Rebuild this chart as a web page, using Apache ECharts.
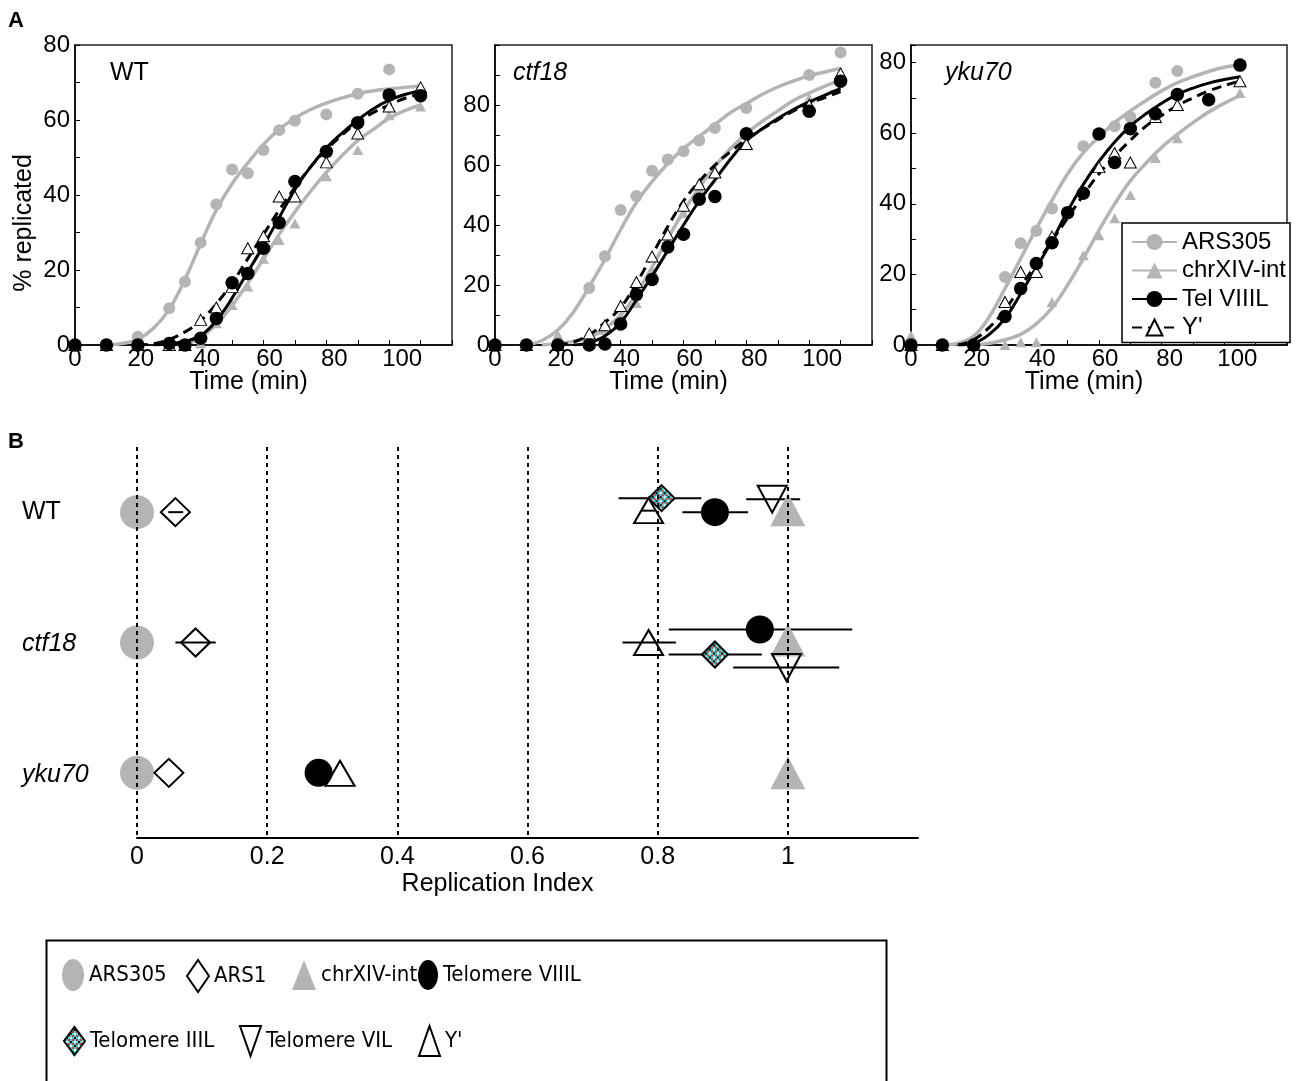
<!DOCTYPE html>
<html><head><meta charset="utf-8">
<script src="https://cdn.jsdelivr.net/npm/echarts@6/dist/echarts.min.js"></script>
<style>html,body{margin:0;padding:0;background:#fff}#c{width:1303px;height:1081px}</style>
</head><body><div id="c"></div>
<script>
// ---------- Panel A data ----------
const tWT = [0,10,20,30,35,40,45,50,55,60,65,70,80,90,100,110];
const wtARS305   = [0,0,2.2,9.8,16.9,27.3,37.5,46.8,45.8,52,57.3,59.8,61.5,67,73.5,67];
const wtChrXIV   = [0,0,0,0,0,0.4,5.8,10.7,15.6,23,28,32.4,45,52,61.3,63.6];
const wtTelVIIIL = [0,0,0,0.4,0,1.8,7.1,16.6,19.1,25.8,32.6,43.6,51.6,59.3,66.7,66.5];
const wtY        = [0,0,0,0,0,6.7,10,15.5,25.8,29,39.6,39.6,48.7,56.4,63.6,68.7];

const tCTF = [0,10,20,30,35,40,45,50,55,60,65,70,80,100,110];
const ctfARS305   = [0,0,0,19,29.6,45,49.7,58.1,61.8,64.6,68.2,72.3,79,90,97.5];
const ctfChrXIV   = [0,0,3.4,3.2,5,10,14,25,37,44,52,58,67,82.3,89.5];
const ctfTelVIIIL = [0,0,0,0,0.3,7,16.8,21.8,32.7,36.9,48.6,49.5,70.4,77.9,87.9];
const ctfY        = [0,0,0,3.8,6.6,13,21,29.5,36.8,46.4,53.6,57.5,67,80,90.5];

const tYKU = [0,10,20,30,35,40,45,50,55,60,65,70,78,85,95,105];
const ykuARS305   = [0,0,0,19.3,28.8,32.3,38.7,null,56.3,null,62,64.6,74.3,77.6,null,null];
const ykuChrXIV   = [2.7,0,0,0,0.8,0.8,12.2,null,25.4,31.1,35.9,42.5,53,58.6,null,71.4];
const ykuTelVIIIL = [0,0,0,8.1,16,23.1,29,37.5,43,59.8,51.7,61.3,65.5,71,69.5,79.3];
const ykuY        = [0,0,0,12.2,20.7,20.7,30.7,null,null,50.4,54.4,51.7,64.6,68,null,74.7];

// fitted curves, sampled every 5 min
const fitT = [10,15,20,25,30,35,40,45,50,55,60,65,70,75,80,85,90,95,100,105,110];
const wtFitARS305   = [0,0.4,1.5,4.5,9.5,17.5,27,36,43,48.5,53.5,57.5,60.5,62.8,64.5,65.9,67,67.8,68.3,68.7,69];
const wtFitChrXIV   = [null,null,null,null,null,0,2,5.5,10.5,16.5,23,29.5,35.5,41,46,50.5,54.5,57.5,60.5,62.5,64];
const wtFitTelVIIIL = [null,null,null,0,0.3,1,2.5,6.5,12.5,19.5,26.5,34,41.5,47.5,52.5,56.5,60,63,65.3,66.8,67.8];
const wtFitY        = [null,null,0,0.3,1.5,3.5,6.5,11,16.5,23,29.5,36,42,47.5,52,56,59.5,62,64,65.8,67];
const ctfFitARS305   = [0,1.5,5,11,19.5,28.5,38.5,47.5,54.5,60.5,65.5,69.5,73.5,77.5,80.5,83.5,86,88,89.8,91,92.2];
const ctfFitChrXIV   = [null,0,0.5,1.2,2.5,5.5,10,17,26,35.5,44.5,52.5,59.5,65.5,70.5,74.5,78,81.5,84,86.3,88.3];
const ctfFitTelVIIIL = [null,null,null,0,0.8,3,7.5,15,23,31.5,40,48,55,62,68,72,75.5,78.5,81,83.3,85.5];
const ctfFitY        = [null,null,0,1,3.4,7.5,12.5,20.5,30,39.5,48,54.5,60,64.5,68.5,72,75,78,80.5,82.5,84.5];
const ykuFitARS305   = [0,0.5,2.5,8,16,24.5,33,41,48.5,54.5,59,63,66.3,69.3,72,74.3,76,77.5,78.7,79.5,null];
const ykuFitChrXIV   = [null,null,0,0.5,1.5,3,6,10.5,17,24.5,32.5,40,46.5,51.5,56,59.7,63,66,68.5,70.7,null];
const ykuFitTelVIIIL = [null,0,0.5,3,7.5,14.5,22,29.5,38,45.5,52,57.5,62,65.5,68.5,71,72.8,74.2,75.2,76,null];
const ykuFitY        = [null,0,1.5,5,10,16.5,23,29.5,36,42.5,48.5,53.5,58,62,65,67.8,70,72,73.5,74.8,null];

const timeTicks = [0,20,40,60,80,100];
const pctTicks = [0,20,40,60,80];

// ---------- Panel B data ----------
const riRows = ['WT','ctf18','yku70'];
const riARS305 = [0,0,0];
const riARS1 = [0.059,0.09,0.049];
const riARS1Lo = [0.048,0.059,null];
const riARS1Hi = [0.071,0.121,null];
const riChrXIV = [1,1,1];
const riTelVIIIL = [0.888,0.957,0.279];
const riTelVIIILLo = [0.838,0.817,null];
const riTelVIIILHi = [0.939,1.099,null];
const riTelIIIL = [0.806,0.888,null];
const riTelIIILLo = [0.74,0.817,null];
const riTelIIILHi = [0.867,0.96,null];
const riTelVIL = [0.976,0.998,null];
const riTelVILLo = [0.936,0.916,null];
const riTelVILHi = [1.019,1.079,null];
const riY = [0.786,0.786,0.312];
const riYLo = [0.776,0.746,null];
const riYHi = [0.796,0.828,null];
const riGuides = [0,0.2,0.4,0.6,0.8,1];
const riTicks = [0,0.2,0.4,0.6,0.8,1];

// ---------- styles / layout ----------
const GRAY = '#b4b4b4';
const FONT = 'Liberation Sans, Arial, Helvetica, sans-serif';
const NARROW = 'Liberation Sans Narrow, Arial Narrow, DejaVu Sans Condensed, Liberation Sans, sans-serif';
// vertical pixel shift of markers within each row (WT, ctf18, yku70)
const shiftPx = {
  'ARS305':[0,0,0], 'ARS1':[0,0,0], 'chrXIV-int':[-2.5,-2.5,0],
  'Telomere VIIIL':[0,-13,0], 'Telomere IIIL':[-14,12,0],
  'Telomere VIL':[-13,25,0], "Y'":[-1.5,0,0.5]
};
// horizontal nudge (left padding, px) of time tick labels, as printed in the figure
const timeLabelPad = {0:0, 20:6, 40:12, 60:12, 80:16, 100:26};
const ELLIPSE = 'path://M0,50 A50,50 0 1,1 100,50 A50,50 0 1,1 0,50 Z';

// checker pattern for Telomere IIIL
const pat = document.createElement('canvas');
pat.width = 8; pat.height = 8;
(function(){
  const g = pat.getContext('2d');
  const cells = [['#ff2a1a','#22e0e8','#ff2a1a','#22e0e8'],
                 ['#22e0e8','#000000','#22e0e8','#ffffff'],
                 ['#ff2a1a','#22e0e8','#ff2a1a','#22e0e8'],
                 ['#22e0e8','#ffffff','#22e0e8','#000000']];
  for (let r=0;r<4;r++) for (let c=0;c<4;c++){ g.fillStyle=cells[r][c]; g.fillRect(c*2,r*2,2,2); }
})();
const IIIL_SIZE = 26;
const PATTERN_MARK = {image: pat, repeat: 'repeat', scaleX: 2/IIIL_SIZE, scaleY: 2/IIIL_SIZE};
const PATTERN_ICON = {image: pat, repeat: 'repeat'};

function pairs(ts, vs){ return ts.map((t,i)=>[t, vs[i]]).filter(d=>d[1]!=null); }

const panels = [
  {pre:'WT', times:tWT, pts:[wtARS305,wtChrXIV,wtTelVIIIL,wtY], fits:[wtFitARS305,wtFitChrXIV,wtFitTelVIIIL,wtFitY], max:80},
  {pre:'ctf18', times:tCTF, pts:[ctfARS305,ctfChrXIV,ctfTelVIIIL,ctfY], fits:[ctfFitARS305,ctfFitChrXIV,ctfFitTelVIIIL,ctfFitY], max:100},
  {pre:'yku70', times:tYKU, pts:[ykuARS305,ykuChrXIV,ykuTelVIIIL,ykuY], fits:[ykuFitARS305,ykuFitChrXIV,ykuFitTelVIIIL,ykuFitY], max:85}
];
const fitNames = ['ARS305','chrXIV-int','Tel VIIIL',"Y'"];
const gridsA = [
  {left:75, top:45, width:377, height:300},
  {left:495, top:45, width:377, height:300},
  {left:911, top:45, width:376, height:300}
];

const grid = gridsA.map(g => Object.assign({show:true, borderColor:'#222', borderWidth:1.5, backgroundColor:'transparent'}, g));
grid.push({left:137, top:447, width:781, height:391});

const timeRich = {};
timeTicks.forEach(v => { timeRich['t'+v] = {fontSize:24, color:'#000', fontFamily:FONT, padding:[0,0,0,timeLabelPad[v]]}; });

const xAxis = [], yAxis = [], series = [];
panels.forEach((p, i) => {
  xAxis.push({type:'value', gridIndex:i, min:0, max:120, interval:10,
    axisLine:{show:true, onZero:false, lineStyle:{color:'#000', width:1.5}},
    axisTick:{show:true, inside:true, length:5, lineStyle:{color:'#000', width:1}},
    splitLine:{show:false},
    axisLabel:{fontSize:24, color:'#000', margin:2, fontFamily:FONT, rich:timeRich,
      formatter: v => timeTicks.indexOf(v) >= 0 ? '{t' + v + '|' + v + '}' : ''},
    name:'Time (min)', nameLocation:'middle', nameGap:25, nameMoveOverlap:false,
    nameTextStyle:{fontSize:25, color:'#000', fontFamily:FONT, padding:[0,30,0,0]}
  });
  const ya = {type:'value', gridIndex:i, min:0, max:p.max, interval:10,
    axisLine:{show:true, onZero:false, lineStyle:{color:'#000', width:1.5}},
    axisTick:{show:true, inside:true, length:5, lineStyle:{color:'#000', width:1}},
    splitLine:{show:false},
    axisLabel:{fontSize:24, color:'#000', margin:5, fontFamily:FONT,
      formatter: v => pctTicks.indexOf(v) >= 0 ? String(v) : ''}
  };
  if (i === 0) {
    Object.assign(ya, {name:'% replicated', nameLocation:'middle', nameGap:38, nameMoveOverlap:false,
      nameTextStyle:{fontSize:25, color:'#000', fontFamily:FONT, padding:[0,56,0,0]}});
  }
  yAxis.push(ya);

  const base = {xAxisIndex:i, yAxisIndex:i};
  const fitStyles = [
    {symbol:'circle', lineStyle:{color:GRAY, width:3.5}, itemStyle:{color:GRAY}, z:2},
    {symbol:'triangle', lineStyle:{color:GRAY, width:3.5}, itemStyle:{color:GRAY}, z:2},
    {symbol:'circle', lineStyle:{color:'#000', width:3}, itemStyle:{color:'#000'}, z:4},
    {symbol:'triangle', lineStyle:{color:'#000', width:3, type:[10,6]}, itemStyle:{color:'#fff', borderColor:'#000', borderWidth:1.5}, z:4}
  ];
  p.fits.forEach((f, k) => {
    series.push(Object.assign({type:'line', name:p.pre+'|'+fitNames[k], data:pairs(fitT, f),
      smooth:0.4, showSymbol:false, silent:true}, base, fitStyles[k]));
  });
  const ptStyles = [
    {symbol:'circle', symbolSize:12, itemStyle:{color:GRAY, opacity:1}, z:3},
    {symbol:'triangle', symbolSize:[11,10], itemStyle:{color:GRAY, opacity:1}, z:3},
    {symbol:'circle', symbolSize:13.5, itemStyle:{color:'#000', opacity:1}, z:6},
    {symbol:'triangle', symbolSize:[12,11], itemStyle:{color:'#fff', borderColor:'#000', borderWidth:1, opacity:1}, z:5}
  ];
  p.pts.forEach((arr, k) => {
    series.push(Object.assign({type:'scatter', name:p.pre+'|'+fitNames[k]+' pts', data:pairs(p.times, arr), silent:true}, base, ptStyles[k]));
  });
});

// Panel B axes
xAxis.push({type:'value', gridIndex:3, min:0, max:1.2, interval:0.2,
  axisLine:{show:true, lineStyle:{color:'#000', width:2}},
  axisTick:{show:false}, splitLine:{show:false},
  axisLabel:{fontSize:25, color:'#000', margin:7, fontFamily:FONT,
    formatter: v => { const s = +(+v).toFixed(2); return riTicks.indexOf(s) >= 0 ? String(s) : ''; }},
  name:'Replication Index', nameLocation:'middle', nameGap:34, nameMoveOverlap:false,
  nameTextStyle:{fontSize:25, color:'#000', fontFamily:FONT, padding:[0,60,0,0]}
});
yAxis.push({type:'category', gridIndex:3, data:riRows, inverse:true,
  axisLine:{show:false}, axisTick:{show:false}, splitLine:{show:false},
  axisLabel:{margin:115, align:'left', fontSize:25, color:'#000', fontFamily:FONT,
    formatter: v => v === 'WT' ? '{n|' + v + '}' : '{i|' + v + '}',
    rich:{n:{fontSize:25, color:'#000', fontFamily:FONT}, i:{fontSize:25, color:'#000', fontStyle:'italic', fontFamily:FONT, padding:[4,0,0,0]}}}
});

const bB = {xAxisIndex:3, yAxisIndex:3};
series.push(Object.assign({type:'scatter', name:'guides', data:[], z:1, silent:true,
  markLine:{silent:true, symbol:'none', animation:false, label:{show:false},
    lineStyle:{color:'#000', width:2, type:[4,4]},
    data: riGuides.map(x => ({xAxis:x}))}}, bB));

const markerDefs = [
  {name:'ARS305', ri:riARS305, symbol:'circle', size:[34,34], itemStyle:{color:GRAY, opacity:1}},
  {name:'ARS1', ri:riARS1, lo:riARS1Lo, hi:riARS1Hi, symbol:'diamond', size:[29,28], itemStyle:{color:'rgba(255,255,255,0)', borderColor:'#000', borderWidth:2, opacity:1}},
  {name:'chrXIV-int', ri:riChrXIV, symbol:'triangle', size:[35,33], itemStyle:{color:GRAY, opacity:1}},
  {name:'Telomere VIIIL', ri:riTelVIIIL, lo:riTelVIIILLo, hi:riTelVIIILHi, symbol:'circle', size:[28,28], itemStyle:{color:'#000', opacity:1}},
  {name:'Telomere IIIL', ri:riTelIIIL, lo:riTelIIILLo, hi:riTelIIILHi, symbol:'diamond', size:[IIIL_SIZE,IIIL_SIZE], itemStyle:{color:PATTERN_MARK, borderColor:'#000', borderWidth:2, opacity:1}},
  {name:'Telomere VIL', ri:riTelVIL, lo:riTelVILLo, hi:riTelVILHi, symbol:'path://M0,0 L10,0 L5,10 Z', size:[29,27], itemStyle:{color:'rgba(255,255,255,0)', borderColor:'#000', borderWidth:2, opacity:1}},
  {name:"Y'", ri:riY, lo:riYLo, hi:riYHi, symbol:'triangle', size:[29,25], itemStyle:{color:'rgba(255,255,255,0)', borderColor:'#000', borderWidth:2, opacity:1}}
];

const barData = [];
markerDefs.forEach(m => {
  if (!m.lo) return;
  riRows.forEach((r, j) => {
    if (m.lo[j] != null) barData.push([m.lo[j], m.hi[j], j, shiftPx[m.name][j]]);
  });
});
series.push(Object.assign({type:'custom', name:'errorbars', z:2, silent:true, data:barData,
  encode:{x:[0,1], y:2},
  renderItem:(params, api) => {
    const a = api.coord([api.value(0), api.value(2)]);
    const b = api.coord([api.value(1), api.value(2)]);
    const dy = api.value(3);
    return {type:'line', shape:{x1:a[0], y1:a[1]+dy, x2:b[0], y2:b[1]+dy}, style:{stroke:'#000', lineWidth:2}};
  }}, bB));

markerDefs.forEach((m, k) => {
  const data = [];
  riRows.forEach((r, j) => {
    if (m.ri[j] != null) data.push({value:[m.ri[j], r], symbolOffset:[0, shiftPx[m.name][j]]});
  });
  series.push(Object.assign({type:'scatter', name:m.name, symbol:m.symbol, symbolSize:m.size,
    itemStyle:m.itemStyle, data:data, z:3+k*0.1, silent:true}, bB));
});

// legends
const legend = [{
  data:['yku70|ARS305','yku70|chrXIV-int','yku70|Tel VIIIL',"yku70|Y'"],
  left:1122, top:223, orient:'vertical', padding:[7,4,3,9], itemWidth:45, itemHeight:20, itemGap:4.5,
  backgroundColor:'#fff', borderColor:'#000', borderWidth:1.5, z:10, selectedMode:false,
  textStyle:{fontSize:24, color:'#000', fontFamily:FONT, lineHeight:20},
  formatter: n => n.split('|')[1]
}];
const bottomItems = [
  {name:'ARS305', left:62, top:959, w:22, h:32, icon:ELLIPSE},
  {name:'ARS1', left:186, top:959, w:22, h:32},
  {name:'chrXIV-int', left:292, top:960, w:24, h:30},
  {name:'Telomere VIIIL', left:418, top:960, w:20, h:30, icon:ELLIPSE},
  {name:'Telomere IIIL', left:63, top:1026, w:21, h:28, itemStyle:{color:PATTERN_ICON, borderColor:'#000', borderWidth:2}},
  {name:'Telomere VIL', left:239, top:1025, w:21, h:30},
  {name:"Y'", left:418, top:1025, w:21, h:30}
];
bottomItems.forEach(b => {
  const lg = {data:[b.name], left:b.left, top:b.top, padding:0,
    itemWidth:b.w, itemHeight:b.h, symbolKeepAspect:false, selectedMode:false, z:10,
    textStyle:{fontSize:22, color:'#000', fontFamily:NARROW}};
  if (b.icon) lg.icon = b.icon;
  if (b.itemStyle) lg.itemStyle = b.itemStyle;
  legend.push(lg);
});

const option = {
  animation:false,
  backgroundColor:'#fff',
  textStyle:{fontFamily:FONT},
  title:[
    {text:'A', left:8, top:10, padding:0, textStyle:{fontSize:22, fontWeight:'bold', color:'#000', fontFamily:FONT}},
    {text:'B', left:8, top:431, padding:0, textStyle:{fontSize:22, fontWeight:'bold', color:'#000', fontFamily:FONT}},
    {text:'WT', left:110, top:61, padding:0, textStyle:{fontSize:25, fontWeight:'normal', color:'#000', fontFamily:FONT}},
    {text:'ctf18', left:513, top:61, padding:0, textStyle:{fontSize:25, fontWeight:'normal', fontStyle:'italic', color:'#000', fontFamily:FONT}},
    {text:'yku70', left:945, top:61, padding:0, textStyle:{fontSize:25, fontWeight:'normal', fontStyle:'italic', color:'#000', fontFamily:FONT}}
  ],
  grid, xAxis, yAxis, series, legend,
  graphic:[{type:'rect', left:44, top:938, z:0, silent:true,
    shape:{width:840, height:150}, style:{fill:'none', stroke:'#000', lineWidth:2}}]
};
const chart = echarts.init(document.getElementById('c'), null, {renderer:'canvas'});
chart.setOption(option);
</script></body></html>
